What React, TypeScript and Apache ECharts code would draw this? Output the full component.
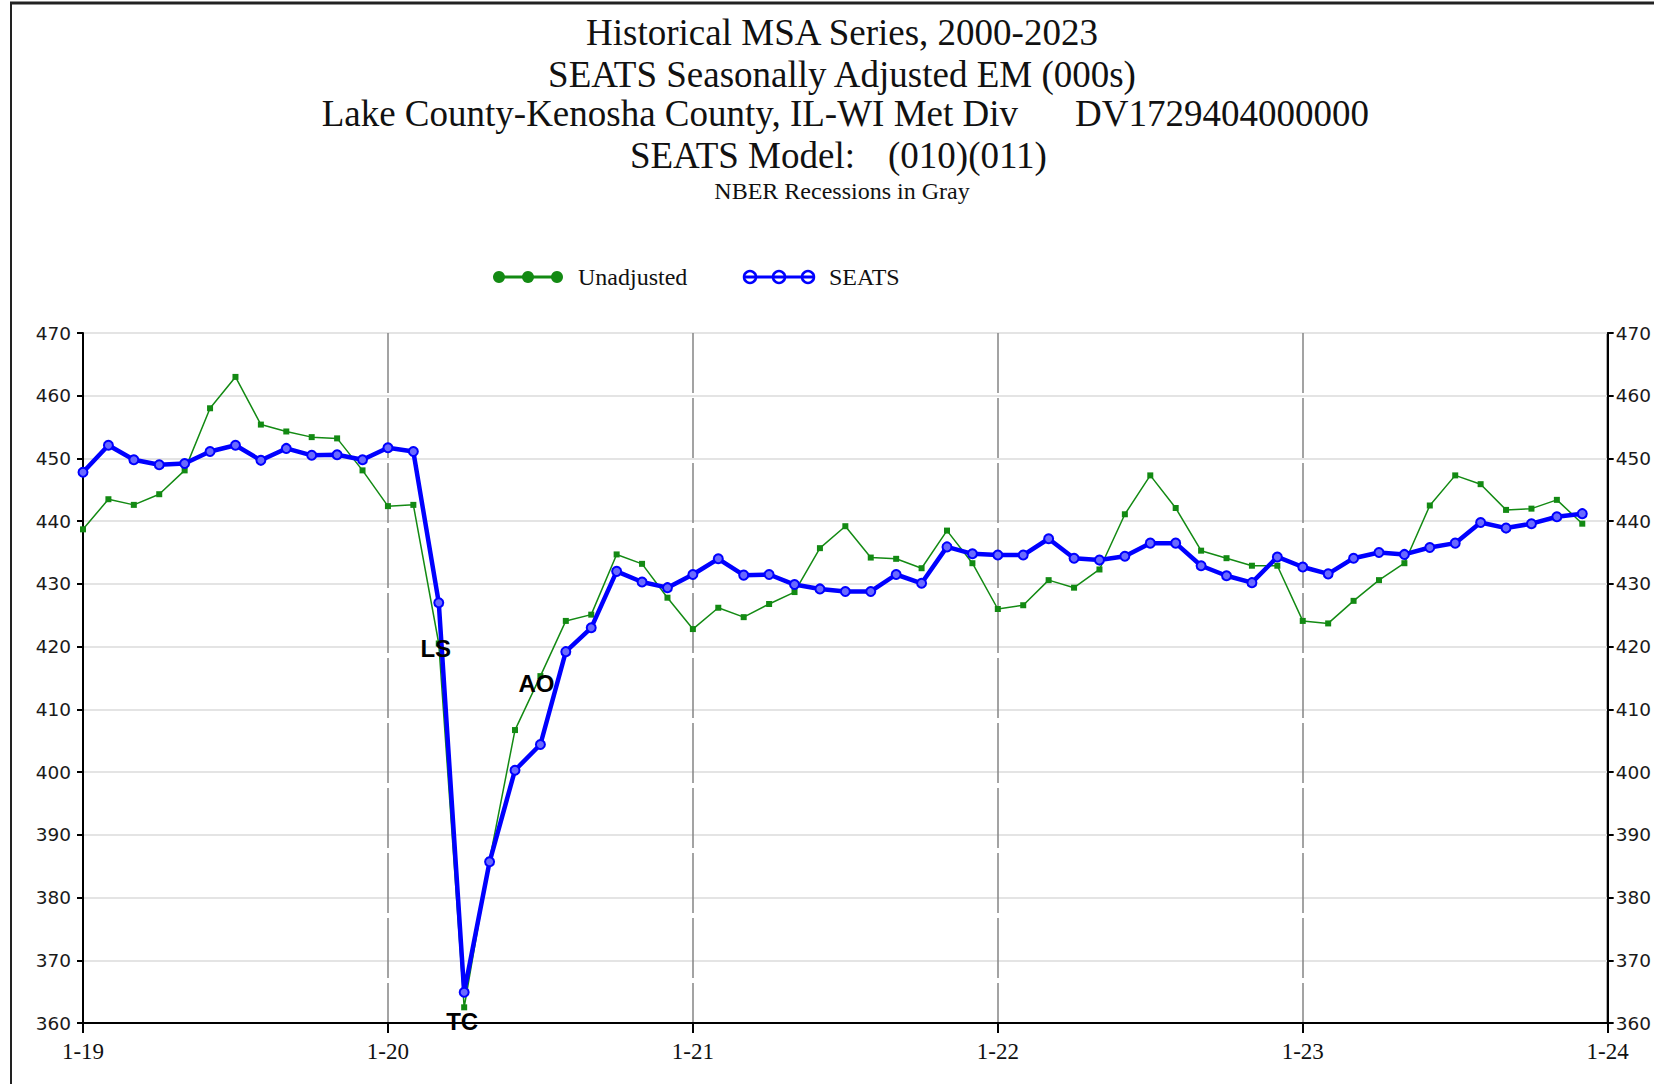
import React, { useEffect, useRef } from "react";
import * as echarts from "echarts";

const years = [19, 20, 21, 22, 23];
const categories: string[] = [];
years.forEach((y) => {
  for (let m = 1; m <= 12; m++) categories.push(`${m}-${y}`);
});
categories.push("1-24");

const unadjusted = [
  438.7, 443.5, 442.6, 444.3, 448.1, 458.0, 463.0, 455.4, 454.3, 453.4, 453.2, 448.1,
  442.4, 442.6, 420.5, 362.5, 386.0, 406.7, 415.3, 424.1, 425.1, 434.7, 433.2, 427.8,
  422.8, 426.2, 424.7, 426.8, 428.7, 435.7, 439.2, 434.2, 434.0, 432.5, 438.5, 433.3,
  426.0, 426.6, 430.6, 429.4, 432.3, 441.1, 447.3, 442.1, 435.3, 434.1, 432.9, 432.9,
  424.1, 423.7, 427.3, 430.6, 433.3, 442.5, 447.3, 445.9, 441.8, 442.0, 443.4, 439.6,
];

const seats = [
  447.8, 452.1, 449.8, 449.0, 449.2, 451.1, 452.1, 449.7, 451.6, 450.5, 450.6, 449.8,
  451.7, 451.1, 427.0, 364.9, 385.7, 400.3, 404.4, 419.2, 423.0, 432.0, 430.3, 429.4,
  431.5, 434.0, 431.4, 431.5, 429.9, 429.2, 428.8, 428.8, 431.5, 430.1, 435.9, 434.8,
  434.6, 434.6, 437.2, 434.1, 433.8, 434.4, 436.5, 436.5, 432.9, 431.3, 430.2, 434.3,
  432.7, 431.6, 434.1, 435.0, 434.7, 435.8, 436.5, 439.8, 438.9, 439.6, 440.7, 441.2,
];

const outliers = [
  { month: "3-20", type: "LS", dx: -3, dy: 5 },
  { month: "4-20", type: "TC", dx: -2, dy: 14 },
  { month: "7-20", type: "AO", dx: -4, dy: 7 },
];

const titleLines = [
  "Historical MSA Series, 2000-2023",
  "SEATS Seasonally Adjusted EM (000s)",
];
const regionName = "Lake County-Kenosha County, IL-WI Met Div";
const seriesCode = "DV1729404000000";
const modelLabel = "SEATS Model:";
const modelSpec = "(010)(011)";
const subtitle = "NBER Recessions in Gray";
const legendNames = ["Unadjusted", "SEATS"];

const GREEN = "#138a13";
const BLUE = "#0000ff";
const SERIF = "'Liberation Serif', 'Times New Roman', serif";

function txt(text: string, x: number, y: number, size: number, align = "center", extra: any = {}) {
  return {
    type: "text",
    x,
    y,
    silent: true,
    style: {
      text,
      fontSize: size,
      fontFamily: SERIF,
      fill: "#111",
      align,
      verticalAlign: "middle",
      textAlign: align,
      textVerticalAlign: "middle",
      ...extra,
    },
  };
}

export default function App() {
  const ref = useRef<HTMLDivElement>(null);
  useEffect(() => {
    if (!ref.current) return;
    const chart = echarts.init(ref.current, undefined, { renderer: "svg" });
    const outlierData = outliers.map((o) => {
      const i = categories.indexOf(o.month);
      return {
        value: [o.month, unadjusted[i]],
        label: { show: true, formatter: o.type, offset: [o.dx, o.dy] },
      };
    });
    const cx = 842;
    const option: any = {
      animation: false,
      backgroundColor: "#ffffff",
      grid: {
        left: 83,
        top: 333,
        width: 1526,
        height: 690,
        show: true,
        borderColor: "#000",
        borderWidth: 2,
        backgroundColor: "transparent",
      },
      xAxis: {
        type: "category",
        data: categories,
        boundaryGap: false,
        axisLine: { show: true, lineStyle: { color: "#000", width: 2 } },
        axisTick: { show: true, interval: 11, length: 10, lineStyle: { color: "#000", width: 2 } },
        axisLabel: {
          interval: 11,
          margin: 17,
          fontSize: 23,
          fontFamily: SERIF,
          color: "#111",
        },
        splitLine: {
          show: true,
          interval: 11,
          lineStyle: { color: "#858585", width: 1.5, type: [60, 5] },
        },
      },
      yAxis: [
        {
          type: "value",
          min: 360,
          max: 470,
          interval: 10,
          position: "left",
          axisLine: { show: true, lineStyle: { color: "#000", width: 2 } },
          axisTick: { show: true, length: 6, lineStyle: { color: "#000", width: 2 } },
          axisLabel: { margin: 12, fontSize: 18.5, fontFamily: "'DejaVu Sans', sans-serif", color: "#1a1a1a" },
          splitLine: { show: true, lineStyle: { color: "#e4e4e4", width: 2 } },
        },
        {
          type: "value",
          min: 360,
          max: 470,
          interval: 10,
          position: "right",
          axisLine: { show: true, lineStyle: { color: "#000", width: 2 } },
          axisTick: { show: true, length: 6, lineStyle: { color: "#000", width: 2 } },
          axisLabel: { margin: 8, fontSize: 18.5, fontFamily: "'DejaVu Sans', sans-serif", color: "#1a1a1a" },
          splitLine: { show: false },
        },
      ],
      series: [
        {
          name: legendNames[0],
          type: "line",
          data: unadjusted,
          symbol: "rect",
          symbolSize: 6,
          z: 2,
          lineStyle: { color: GREEN, width: 1.5 },
          itemStyle: { color: GREEN },
        },
        {
          name: legendNames[1],
          type: "line",
          data: seats,
          symbol: "circle",
          symbolSize: 9,
          z: 3,
          lineStyle: { color: BLUE, width: 4.5 },
          itemStyle: { color: "#6a6aff", borderColor: BLUE, borderWidth: 2 },
        },
        {
          name: "Outliers",
          type: "scatter",
          data: outlierData,
          symbol: "circle",
          symbolSize: 2,
          z: 6,
          itemStyle: { color: "rgba(0,0,0,0)" },
          label: {
            show: true,
            position: "inside",
            color: "#000000",
            opacity: 1,
            textBorderWidth: 0,
            textBorderColor: "transparent",
            fontSize: 24,
            fontWeight: "bold",
            fontFamily: "'Liberation Sans', Arial, sans-serif",
          },
        },
      ],
      graphic: [
        { type: "line", silent: true, shape: { x1: 10, y1: 3, x2: 1654, y2: 3 }, style: { stroke: "#222", lineWidth: 3 } },
        { type: "line", silent: true, shape: { x1: 11, y1: 2, x2: 11, y2: 1084 }, style: { stroke: "#222", lineWidth: 2 } },
        txt(titleLines[0], cx, 32, 37),
        txt(titleLines[1], cx, 74, 37),
        txt(regionName, 1018, 113, 37, "right"),
        txt(seriesCode, 1075, 113, 37, "left"),
        txt(modelLabel, 855, 155, 37, "right"),
        txt(modelSpec, 888, 155, 37, "left"),
        txt(subtitle, cx, 191, 24),
        // legend
        { type: "line", silent: true, shape: { x1: 494, y1: 277, x2: 562, y2: 277 }, style: { stroke: GREEN, lineWidth: 3 } },
        { type: "circle", silent: true, shape: { cx: 499, cy: 277, r: 6 }, style: { fill: GREEN } },
        { type: "circle", silent: true, shape: { cx: 528, cy: 277, r: 6 }, style: { fill: GREEN } },
        { type: "circle", silent: true, shape: { cx: 557, cy: 277, r: 6 }, style: { fill: GREEN } },
        txt(legendNames[0], 578, 277, 24, "left"),
        { type: "line", silent: true, shape: { x1: 745, y1: 277, x2: 814, y2: 277 }, style: { stroke: BLUE, lineWidth: 3 } },
        { type: "circle", silent: true, shape: { cx: 750, cy: 277, r: 6 }, style: { fill: "none", stroke: BLUE, lineWidth: 2.5 } },
        { type: "circle", silent: true, shape: { cx: 779, cy: 277, r: 6 }, style: { fill: "none", stroke: BLUE, lineWidth: 2.5 } },
        { type: "circle", silent: true, shape: { cx: 808, cy: 277, r: 6 }, style: { fill: "none", stroke: BLUE, lineWidth: 2.5 } },
        txt(legendNames[1], 829, 277, 24, "left"),
      ],
    };
    chart.setOption(option);
    return () => chart.dispose();
  }, []);
  return (
    <div
      ref={ref}
      style={{ position: "fixed", left: 0, top: 0, width: 1654, height: 1084, background: "#fff" }}
    />
  );
}
